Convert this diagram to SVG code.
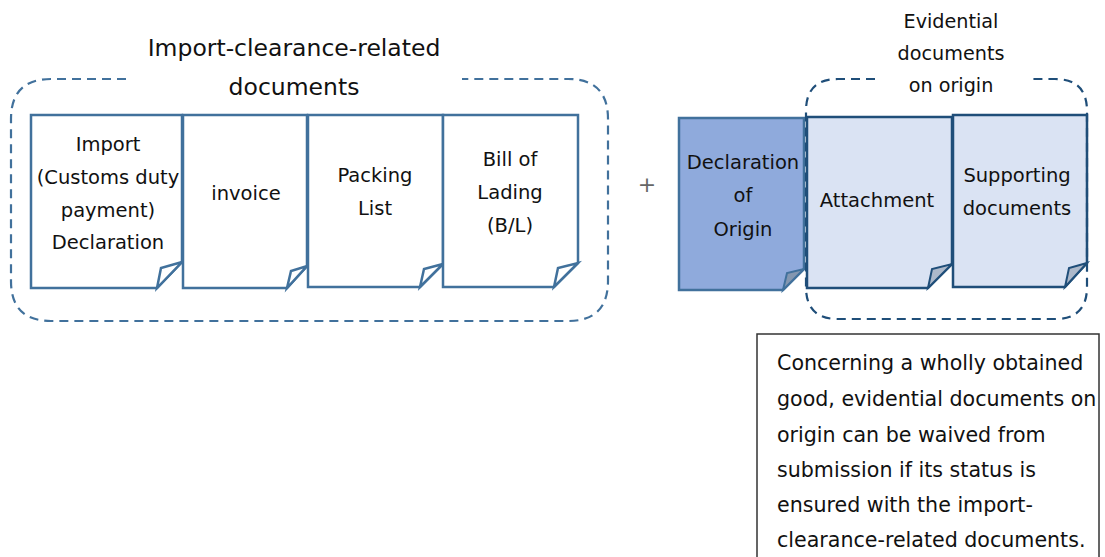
<svg xmlns="http://www.w3.org/2000/svg" width="1105" height="557" viewBox="0 0 1105 557">
<style>
text{font-family:"DejaVu Sans",Verdana,sans-serif;fill:#111;text-anchor:middle}
.d19{font-size:19.5px}
.ttl{font-size:23.5px}
.evt{font-size:19.2px}
.nt{font-size:20.6px;text-anchor:start}
.doc{fill:#fff;stroke:#41719C;stroke-width:2.5;stroke-linejoin:miter}
.flap{fill:#fff;stroke:#41719C;stroke-width:2.5}
.doi{fill:#8FAADC;stroke:#41719C;stroke-width:2.5}
.doiflap{fill:#8497B0;stroke:#41719C;stroke-width:2}
.ev{fill:#DAE3F3;stroke:#1F4E79;stroke-width:2.5}
.evflap{fill:#ADB9CA;stroke:#1F4E79;stroke-width:2}
.dash1{fill:none;stroke:#41719C;stroke-width:2.2;stroke-dasharray:9 6}
.dash2{fill:none;stroke:#1F4E79;stroke-width:2.2;stroke-dasharray:9 6}
.note{fill:#fff;stroke:#333;stroke-width:1.5}
</style>
<rect width="1105" height="557" fill="#fff"/>
<g id="doc-import-declaration">
<path class="doc" d="M31,115 H182 V262 L157,288 H31 Z"/>
<path class="flap" d="M157,288 L161,268 L182,262 Z"/>
<text class="d19" x="108" y="151">Import</text>
<text class="d19" x="108" y="184">(Customs duty</text>
<text class="d19" x="108" y="217">payment)</text>
<text class="d19" x="108" y="249">Declaration</text>
</g>
<g id="doc-invoice">
<path class="doc" d="M183,115 H307 V266 L287,288 H183 Z"/>
<path class="flap" d="M287,288 L291,271 L307,266 Z"/>
<text class="d19" x="246" y="200">invoice</text>
</g>
<g id="doc-packing-list">
<path class="doc" d="M308,115 H443 V264 L420,287 H308 Z"/>
<path class="flap" d="M420,287 L424,269 L443,264 Z"/>
<text class="d19" x="375" y="182">Packing</text>
<text class="d19" x="375" y="215">List</text>
</g>
<g id="doc-bill-of-lading">
<path class="doc" d="M443,115 H578 V263 L554,287 H443 Z"/>
<path class="flap" d="M554,287 L558,268 L578,263 Z"/>
<text class="d19" x="510" y="166">Bill of</text>
<text class="d19" x="510" y="199">Lading</text>
<text class="d19" x="510" y="232">(B/L)</text>
</g>
<g id="group-import-clearance">
<path class="dash1" d="M126,79 H51 Q11,79 11,119 V281 Q11,321 51,321 H568 Q608,321 608,281 V119 Q608,79 568,79 H462"/>
<text class="ttl" x="294" y="56">Import-clearance-related</text>
<text class="ttl" x="294" y="95">documents</text>
</g>
<g id="plus">
<text x="647" y="192" style="font-size:22px;fill:#666">+</text>
</g>
<g id="doc-declaration-of-origin">
<path class="doi" d="M679,118 H804 V269 L783,290 H679 Z"/>
<path class="doiflap" d="M783,290 L787,273 L804,269 Z"/>
<text class="d19" x="743" y="169">Declaration</text>
<text class="d19" x="743" y="202">of</text>
<text class="d19" x="743" y="236">Origin</text>
</g>
<g id="doc-attachment">
<path class="ev" d="M807,117 H952 V264 L928,288 H807 Z"/>
<path class="evflap" d="M928,288 L932,269 L952,264 Z"/>
<text class="d19" x="877" y="207">Attachment</text>
</g>
<g id="doc-supporting-documents">
<path class="ev" d="M953,115 H1087 V263 L1065,287 H953 Z"/>
<path class="evflap" d="M1065,287 L1069,268 L1087,263 Z"/>
<text class="d19" x="1017" y="182">Supporting</text>
<text class="d19" x="1017" y="215">documents</text>
</g>
<g id="group-evidential">
<path class="dash2" d="M875,79 H838 Q806,79 806,111 V287 Q806,319 838,319 H1055 Q1087,319 1087,287 V111 Q1087,79 1055,79 H1032"/>
<text class="evt" x="951" y="28">Evidential</text>
<text class="evt" x="951" y="60">documents</text>
<text class="evt" x="951" y="92">on origin</text>
</g>
<g id="note">
<rect class="note" x="757" y="334" width="342" height="230"/>
<text class="nt" x="777" y="370">Concerning a wholly obtained</text>
<text class="nt" x="777" y="406">good, evidential documents on</text>
<text class="nt" x="777" y="442">origin can be waived from</text>
<text class="nt" x="777" y="477">submission if its status is</text>
<text class="nt" x="777" y="512">ensured with the import-</text>
<text class="nt" x="777" y="547">clearance-related documents.</text>
</g>
</svg>
